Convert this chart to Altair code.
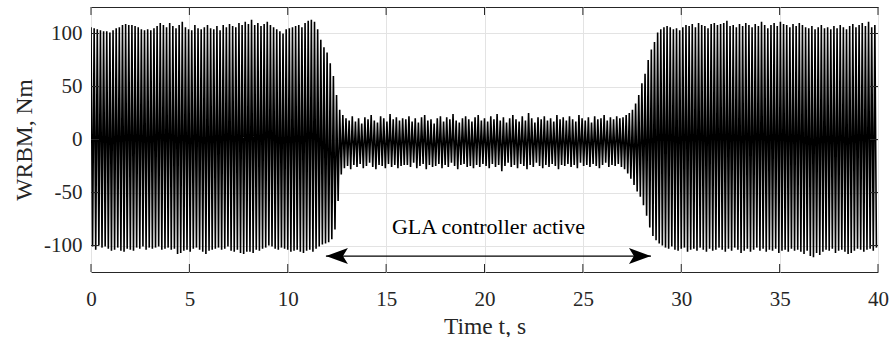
import altair as alt
import pandas as pd

# ---- data -------------------------------------------------------------
PERIOD = 0.16  # seconds per oscillation cycle (approx. 6.25 Hz)

TOP_PEAKS = [
    106, 105, 104, 103, 102, 102, 101, 103, 105, 106, 108, 109, 108, 108, 107, 106, 104, 103, 104, 103, 105, 107, 110, 108, 106,
    110, 107, 105, 108, 111, 106, 104, 103, 108, 105, 104, 106, 108, 105, 104, 107, 103, 108, 106, 109, 107, 106, 110, 108, 111,
    109, 113, 108, 110, 107, 109, 111, 108, 106, 104, 102, 100, 104, 105, 106, 107, 108, 106, 110, 112, 113, 111, 104, 94, 87,
    82, 72, 60, 42, 28, 23, 20, 18, 22, 17, 20, 15, 21, 19, 23, 18, 16, 22, 20, 17, 24, 19, 21, 18, 20,
    19, 22, 17, 20, 16, 21, 23, 18, 19, 15, 20, 22, 17, 21, 19, 24, 18, 16, 20, 22, 19, 17, 21, 23, 18,
    20, 17, 22, 19, 24, 18, 21, 16, 20, 23, 19, 17, 22, 18, 25, 20, 16, 21, 19, 22, 18, 20, 17, 23, 19,
    21, 18, 22, 19, 17, 23, 20, 18, 21, 16, 22, 19, 20, 23, 18, 21, 19, 22, 20, 21, 23, 25, 28, 34, 42,
    53, 62, 75, 85, 92, 101, 104, 106, 107, 106, 104, 105, 103, 106, 108, 107, 109, 106, 110, 108, 107, 105, 109, 110, 108,
    109, 110, 112, 107, 108, 106, 109, 107, 110, 108, 106, 109, 107, 111, 108, 105, 108, 110, 107, 111, 109, 108, 106, 109, 107,
    110, 108, 106, 105, 107, 104, 106, 108, 105, 106, 104, 107, 105, 108, 106, 104, 107, 109, 106, 108, 110, 107, 111, 106, 108,
]

BOTTOM_PEAKS = [
    -101, -104, -100, -102, -101, -103, -105, -104, -102, -105, -106, -103, -104, -105, -102, -103, -101, -104, -102, -103, -102, -101, -104, -103, -102,
    -104, -103, -108, -107, -105, -104, -106, -103, -102, -104, -106, -108, -105, -104, -103, -102, -104, -103, -101, -105, -106, -104, -107, -108, -106,
    -106, -107, -104, -105, -103, -102, -100, -101, -103, -104, -102, -103, -104, -106, -105, -104, -106, -107, -105, -104, -106, -103, -101, -99, -98,
    -97, -94, -85, -58, -33, -27, -25, -28, -24, -26, -23, -27, -25, -22, -26, -28, -24, -25, -27, -23, -26, -24, -27, -25, -24,
    -24, -26, -22, -27, -25, -23, -28, -24, -26, -25, -23, -27, -24, -26, -22, -25, -28, -24, -23, -26, -25, -27, -24, -26, -23,
    -25, -27, -23, -26, -24, -30, -25, -22, -26, -24, -27, -23, -25, -28, -24, -26, -22, -25, -27, -24, -26, -23, -25, -28, -24,
    -25, -23, -26, -24, -27, -22, -25, -24, -26, -23, -25, -27, -24, -22, -26, -24, -25, -23, -26, -28, -32, -37, -43, -49, -54,
    -62, -72, -83, -91, -95, -98, -100, -102, -103, -101, -104, -105, -103, -102, -106, -104, -103, -105, -102, -104, -106, -103, -105, -104, -102,
    -104, -106, -103, -105, -102, -104, -107, -105, -103, -106, -104, -102, -105, -103, -106, -104, -105, -103, -107, -105, -104, -106, -103, -105, -104,
    -106, -108, -105, -110, -111, -107, -109, -106, -104, -105, -103, -107, -105, -104, -106, -108, -107, -105, -103, -104, -106, -104, -103, -105, -102,
]

X_TICKS = [0, 5, 10, 15, 20, 25, 30, 35, 40]
Y_TICKS = [-100, -50, 0, 50, 100]

ARROW_START = 11.94
ARROW_END = 28.46
ARROW_Y = -110
LABEL_TEXT = "GLA controller active"
LABEL_T = 20.2
LABEL_Y = -83

# ---- tables -------------------------------------------------------------
rows = []
for k, (hi, lo) in enumerate(zip(TOP_PEAKS, BOTTOM_PEAKS)):
    rows.append({"t": round(k * PERIOD, 4), "v": hi})
    rows.append({"t": round(k * PERIOD + PERIOD / 2, 4), "v": lo})
signal = pd.DataFrame(rows)

xticks_df = pd.DataFrame({"t": X_TICKS})
yticks_df = pd.DataFrame({"v": Y_TICKS})
arrow_df = pd.DataFrame({"t": [ARROW_START], "t2": [ARROW_END], "v": [ARROW_Y]})
heads_df = pd.DataFrame({"t": [ARROW_START, ARROW_END], "v": [ARROW_Y, ARROW_Y], "side": ["L", "R"]})
label_df = pd.DataFrame({"t": [LABEL_T], "v": [LABEL_Y], "label": [LABEL_TEXT]})

W, H = 787, 265
FONT = "Times New Roman, Liberation Serif, serif"
AX = "#262626"

xs = alt.Scale(domain=[0, 40], nice=False, zero=False)
ys = alt.Scale(domain=[-125, 125], nice=False, zero=False)

x_enc = alt.X(
    "t:Q", scale=xs,
    axis=alt.Axis(values=X_TICKS, title="Time t, s", grid=True, labelPadding=16,
                  titlePadding=5, labelFlush=False, labelFont=FONT, titleFont=FONT,
                  labelFontSize=21, titleFontSize=23.5),
)
y_enc = alt.Y(
    "v:Q", scale=ys,
    axis=alt.Axis(values=Y_TICKS, title="WRBM, Nm", grid=True, labelPadding=9,
                  titlePadding=7, labelExpr="'' + datum.value", labelFont=FONT,
                  titleFont=FONT, labelFontSize=21, titleFontSize=23.5),
)

line = alt.Chart(signal).mark_line(color="black", strokeWidth=1.6, clip=True).encode(
    x=x_enc, y=y_enc
)

tick_len = 8
xt_bottom = alt.Chart(xticks_df).mark_rule(color=AX, strokeWidth=1).encode(
    x=alt.X("t:Q", scale=xs), y=alt.value(H), y2=alt.value(H - tick_len)
)
xt_top = alt.Chart(xticks_df).mark_rule(color=AX, strokeWidth=1).encode(
    x=alt.X("t:Q", scale=xs), y=alt.value(0), y2=alt.value(tick_len)
)
yt_left = alt.Chart(yticks_df).mark_rule(color=AX, strokeWidth=1).encode(
    y=alt.Y("v:Q", scale=ys), x=alt.value(0), x2=alt.value(tick_len)
)
yt_right = alt.Chart(yticks_df).mark_rule(color=AX, strokeWidth=1).encode(
    y=alt.Y("v:Q", scale=ys), x=alt.value(W), x2=alt.value(W - tick_len)
)

arrow_line = alt.Chart(arrow_df).mark_rule(color="black", strokeWidth=1.2).encode(
    x=alt.X("t:Q", scale=xs), x2="t2:Q", y=alt.Y("v:Q", scale=ys)
)
head_left = alt.Chart(heads_df).transform_filter("datum.side == 'L'").mark_point(
    shape="M0,0L2.2,-0.8L1.7,0L2.2,0.8Z", filled=True, color="black", opacity=1,
    size=400, strokeWidth=0,
).encode(x=alt.X("t:Q", scale=xs), y=alt.Y("v:Q", scale=ys))
head_right = alt.Chart(heads_df).transform_filter("datum.side == 'R'").mark_point(
    shape="M0,0L-2.2,-0.8L-1.7,0L-2.2,0.8Z", filled=True, color="black", opacity=1,
    size=400, strokeWidth=0,
).encode(x=alt.X("t:Q", scale=xs), y=alt.Y("v:Q", scale=ys))

label = alt.Chart(label_df).mark_text(
    font=FONT, fontSize=22, color="black", align="center", baseline="middle"
).encode(x=alt.X("t:Q", scale=xs), y=alt.Y("v:Q", scale=ys), text="label:N")

chart = alt.layer(
    line, xt_bottom, xt_top, yt_left, yt_right, arrow_line, head_left, head_right, label
).properties(
    width=W, height=H,
    padding={"left": 91, "top": 7, "right": 11, "bottom": 65},
    autosize=alt.AutoSizeParams(type="none"),
    background="white",
).configure(
    font=FONT
).configure_view(
    stroke=AX, strokeWidth=1
).configure_axis(
    labelFont=FONT, labelFontSize=21, labelColor=AX,
    titleFont=FONT, titleFontSize=23.5, titleColor=AX, titleFontWeight="normal",
    ticks=False, domain=False, gridColor="#e3e3e3", gridWidth=1,
)

chart.save("out.html", embed_options={"renderer": "svg", "actions": False})
